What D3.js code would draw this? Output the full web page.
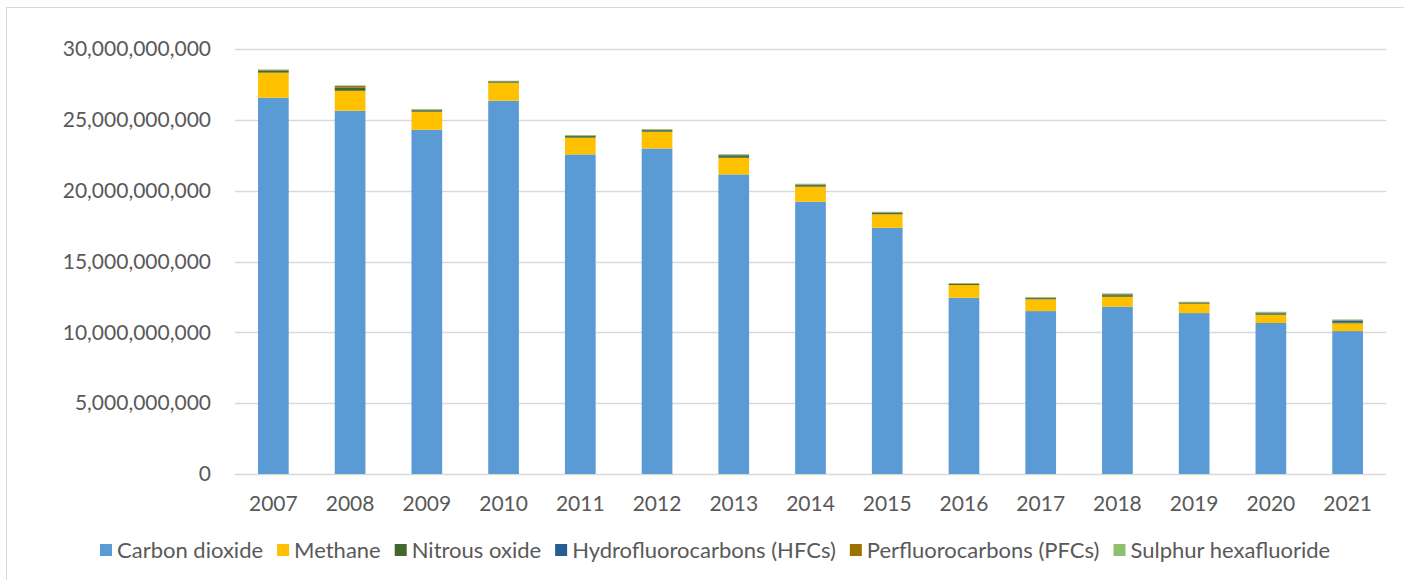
<!DOCTYPE html>
<html>
<head>
<meta charset="utf-8">
<script src="https://cdn.jsdelivr.net/npm/d3@7"></script>
<style>
  body { margin: 0; background: #fff; }
  svg { display: block; font-family: Lato, "Open Sans", sans-serif; }
  .tick text { fill: #595959; }
</style>
</head>
<body>
<svg id="chart" width="1404" height="580"></svg>
<script>
// ---- data (tonnes CO2e) ----
const years = ['2007','2008','2009','2010','2011','2012','2013','2014','2015','2016','2017','2018','2019','2020','2021'];
const carbonDioxide = [26.56e9, 25.64e9, 24.30e9, 26.35e9, 22.56e9, 22.98e9, 21.15e9, 19.22e9, 17.38e9, 12.44e9, 11.50e9, 11.81e9, 11.36e9, 10.66e9, 10.09e9];
const methane       = [1.77e9, 1.41e9, 1.27e9, 1.27e9, 1.18e9, 1.18e9, 1.17e9, 1.06e9, 0.95e9, 0.90e9, 0.83e9, 0.70e9, 0.66e9, 0.58e9, 0.54e9];
const nitrousOxide  = [0.12e9, 0.20e9, 0.10e9, 0.08e9, 0.11e9, 0.11e9, 0.12e9, 0.11e9, 0.09e9, 0.07e9, 0.08e9, 0.11e9, 0.07e9, 0.09e9, 0.08e9];
const hfcs          = [0.03e9, 0.04e9, 0.02e9, 0.02e9, 0.02e9, 0.02e9, 0.06e9, 0.03e9, 0.03e9, 0.02e9, 0.02e9, 0.05e9, 0.02e9, 0.05e9, 0.12e9];
const pfcs          = [0.05e9, 0.10e9, 0.04e9, 0.02e9, 0.03e9, 0.03e9, 0.04e9, 0.03e9, 0.03e9, 0.02e9, 0.03e9, 0.04e9, 0.02e9, 0.03e9, 0.03e9];
const sf6           = [0.03e9, 0.04e9, 0.03e9, 0.02e9, 0.03e9, 0.03e9, 0.04e9, 0.04e9, 0.03e9, 0.03e9, 0.03e9, 0.04e9, 0.03e9, 0.04e9, 0.05e9];
const seriesNames = ['Carbon dioxide', 'Methane', 'Nitrous oxide', 'Hydrofluorocarbons (HFCs)', 'Perfluorocarbons (PFCs)', 'Sulphur hexafluoride'];
const seriesValues = [carbonDioxide, methane, nitrousOxide, hfcs, pfcs, sf6];
const yTicks = [0, 5e9, 10e9, 15e9, 20e9, 25e9, 30e9];

const colors = ['#5b9bd5', '#ffc000', '#43682b', '#255e91', '#9e7000', '#8dc16b'];
const FONT = '21px';

// ---- layout ----
const svg = d3.select('#chart');
const margin = { left: 235, right: 18, top: 49, bottom: 106 };
const W = 1404, H = 580;

// chart frame (runs off the right/bottom edge like the source screenshot)
svg.append('rect')
  .attr('x', 6.5).attr('y', 7.5)
  .attr('width', W).attr('height', H)
  .attr('fill', 'none')
  .attr('stroke', '#d9d9d9');

const x = d3.scaleBand()
  .domain(years)
  .range([margin.left, W - margin.right])
  .paddingInner(0.6)
  .paddingOuter(0.3);

const y = d3.scaleLinear()
  .domain([0, 30e9])
  .range([H - margin.bottom, margin.top]);

// gridlines
svg.append('g')
  .selectAll('line')
  .data(yTicks)
  .enter()
  .append('line')
  .attr('x1', margin.left)
  .attr('x2', W - margin.right)
  .attr('y1', d => Math.round(y(d)) + 0.5)
  .attr('y2', d => Math.round(y(d)) + 0.5)
  .attr('stroke', '#d9d9d9')
  .attr('stroke-width', 1.5);

// y axis labels
const yAxis = d3.axisLeft(y)
  .tickValues(yTicks)
  .tickFormat(d3.format(','))
  .tickSize(0)
  .tickPadding(24);
svg.append('g')
  .attr('transform', `translate(${margin.left},0)`)
  .call(yAxis)
  .call(g => g.select('.domain').remove())
  .selectAll('text')
  .style('font-size', FONT)
  .style('font-family', 'Lato, sans-serif');

// stacked bars
const table = years.map((yr, i) => {
  const row = { year: yr };
  seriesNames.forEach((name, s) => { row[name] = seriesValues[s][i]; });
  return row;
});
const stacked = d3.stack().keys(seriesNames)(table);

svg.append('g')
  .selectAll('g')
  .data(stacked)
  .enter()
  .append('g')
  .attr('fill', (d, i) => colors[i])
  .selectAll('rect')
  .data(d => d)
  .enter()
  .append('rect')
  .attr('x', d => x(d.data.year))
  .attr('width', x.bandwidth())
  .attr('y', d => y(d[1]))
  .attr('height', d => y(d[0]) - y(d[1]));

// x axis
const xAxis = d3.axisBottom(x).tickSize(0).tickPadding(22);
svg.append('g')
  .attr('transform', `translate(0,${H - margin.bottom})`)
  .call(xAxis)
  .call(g => g.select('.domain').remove())
  .selectAll('text')
  .style('font-size', FONT)
  .style('font-family', 'Lato, sans-serif');

// legend
const legend = svg.append('g');
const items = legend.selectAll('g')
  .data(seriesNames)
  .enter()
  .append('g');
items.append('rect')
  .attr('width', 12).attr('height', 12)
  .attr('y', -6)
  .attr('fill', (d, i) => colors[i]);
items.append('text')
  .attr('x', 17)
  .attr('dy', '0.35em')
  .attr('fill', '#595959')
  .style('font-size', '22px')
  .text(d => d);

let offset = 0;
const gap = 14;
const widths = [];
items.each(function() {
  widths.push(this.getBBox().width);
});
items.attr('transform', (d, i) => {
  const pos = offset;
  offset += widths[i] + gap;
  return `translate(${pos},0)`;
});
const total = offset - gap;
legend.attr('transform', `translate(${Math.round(715 - total / 2)},550)`);
</script>
</body>
</html>
